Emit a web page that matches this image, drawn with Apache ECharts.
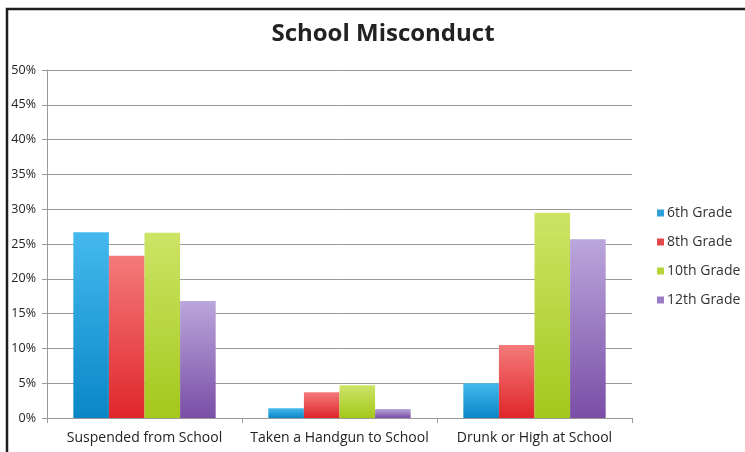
<!DOCTYPE html>
<html><head><meta charset="utf-8">
<script src="https://cdn.jsdelivr.net/npm/echarts@6/dist/echarts.min.js"></script>
<style>html,body{margin:0;padding:0;background:#fff;}#c{width:745px;height:452px;}</style>
</head><body><div id="c"></div>
<script>
const categories = ["Suspended from School", "Taken a Handgun to School", "Drunk or High at School"];
const seriesNames = ["6th Grade", "8th Grade", "10th Grade", "12th Grade"];
const grade6 = [26.7, 1.4, 5.0];
const grade8 = [23.3, 3.7, 10.5];
const grade10 = [26.6, 4.7, 29.5];
const grade12 = [16.8, 1.3, 25.7];
const yTicks = [0, 5, 10, 15, 20, 25, 30, 35, 40, 45, 50];

const values = [grade6, grade8, grade10, grade12];
const grads = [["#45b9ee", "#0a86c6"], ["#f47a7a", "#e0262b"], ["#cde466", "#a4c81c"], ["#bba6dc", "#7a4ea6"]];
const legendColors = ["#2e9fd9", "#e4474a", "#b7d43a", "#9a7cc4"];
const font = "'Open Sans', sans-serif";

const chart = echarts.init(document.getElementById('c'), null, {renderer: 'canvas'});
chart.setOption({
  animation: false,
  title: {text: "School Misconduct", left: 378, top: 17, textAlign: 'center',
    textStyle: {fontFamily: font, fontSize: 24, fontWeight: 'bold', color: '#222'}},
  graphic: [{type: 'rect', shape: {x: 7, y: 9, width: 800, height: 500},
    style: {fill: 'none', stroke: '#1e1e1e', lineWidth: 2.5}, silent: true}],
  legend: {orient: 'vertical', left: 652, top: 201, itemGap: 15, itemWidth: 7, itemHeight: 7,
    icon: 'rect', textStyle: {fontFamily: font, fontSize: 14, color: '#333', padding: [0,0,0,-2]},
    data: seriesNames.map((n, i) => ({name: n, itemStyle: {color: legendColors[i]}}))},
  grid: {left: 47, right: 113, top: 70, bottom: 34},
  xAxis: {type: 'category', data: categories,
    axisLine: {lineStyle: {color: '#999'}}, axisTick: {show: true, lineStyle: {color: '#999'}, length: 5},
    axisLabel: {interval: 0, fontFamily: font, fontSize: 14, color: '#222', margin: 13}},
  yAxis: {type: 'value', min: 0, max: 50, interval: 5,
    axisLine: {show: true, lineStyle: {color: '#999'}}, axisTick: {show: true, lineStyle: {color: '#999'}, length: 5},
    axisLabel: {fontFamily: font, fontSize: 12.5, color: '#222', margin: 11,
      formatter: v => yTicks.includes(v) ? v + '%' : ''},
    splitLine: {lineStyle: {color: '#999'}}},
  series: seriesNames.map((n, i) => ({
    name: n, type: 'bar', data: values[i], barGap: '0%', barCategoryGap: '27%',
    itemStyle: {color: new echarts.graphic.LinearGradient(0, 0, 0, 1, [
      {offset: 0, color: grads[i][0]}, {offset: 1, color: grads[i][1]}])}
  }))
});
</script></body></html>
